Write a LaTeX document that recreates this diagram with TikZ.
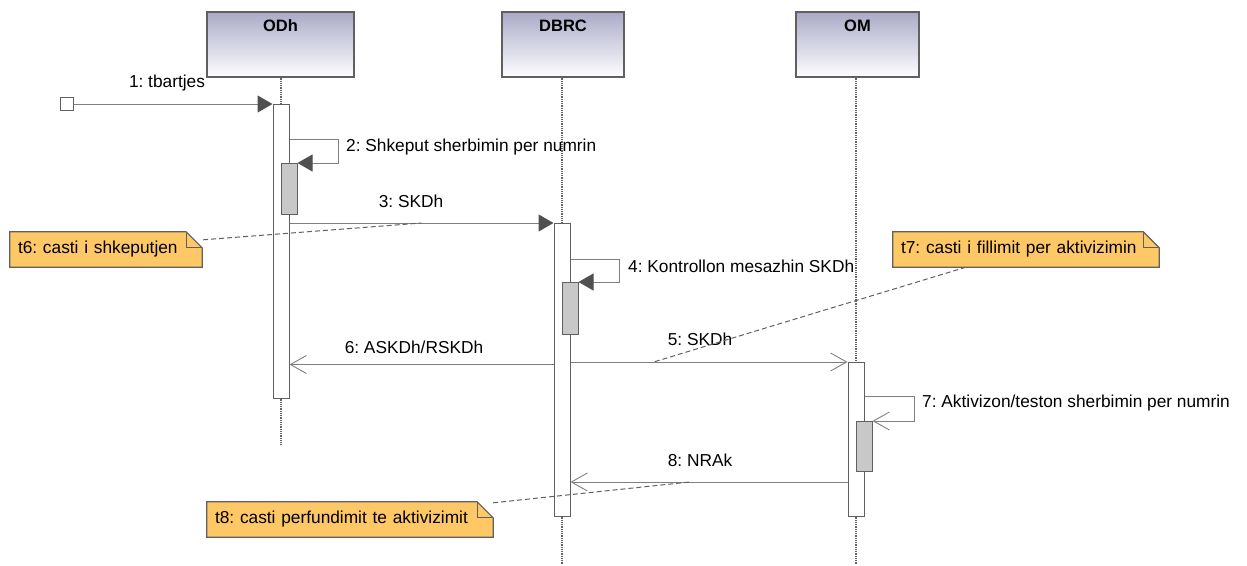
\documentclass[tikz,border=0pt]{standalone}
\usepackage{fontspec}
\setmainfont{Liberation Sans}
\usetikzlibrary{arrows.meta,backgrounds,calc}
\frenchspacing

\definecolor{hdrtop}{RGB}{170,170,199}
\definecolor{hdrbot}{RGB}{252,252,254}
\definecolor{edge}{RGB}{96,96,96}
\definecolor{msg}{RGB}{128,128,128}
\definecolor{headfill}{RGB}{80,80,80}
\definecolor{nested}{RGB}{200,200,200}
\definecolor{notefill}{RGB}{255,200,102}
\definecolor{life}{RGB}{100,100,100}

\tikzset{
  lbl/.style={font=\fontsize{17.3}{20}\selectfont, inner sep=0pt},
  % vertical gradient built from thin horizontal strips
  hdr/.style={draw=edge, line width=1.2pt, minimum height=65pt, inner sep=0pt,
    path picture={
      \foreach \i in {0,...,31}{
        \pgfmathtruncatemacro\pct{100-\i*100/31}
        \fill[hdrtop!\pct!hdrbot]
          ($(path picture bounding box.north west)!{\i/32}!(path picture bounding box.south west)$)
          rectangle
          ($(path picture bounding box.north east)!{(\i+1.3)/32}!(path picture bounding box.south east)$);
      }}},
  hdrtext/.style={font=\fontsize{16.5}{19}\selectfont\bfseries, inner sep=0pt},
  actbar/.style={draw=edge, line width=1pt, fill=white, minimum width=16pt, inner sep=0pt},
  subbar/.style={actbar, fill=nested},
  lifeline/.style={draw=life, line width=1.5pt, dash pattern=on 1pt off 0.8pt},
  call/.style={draw=msg, line width=1pt,
               -{Triangle[length=15pt,width=17pt,color=headfill]}},
  reply/.style={draw=msg, line width=0.9pt, -{Straight Barb[length=16pt,width=18pt]}},
  notebox/.style={lbl, minimum height=35pt, align=left, inner xsep=8pt},
  noteedge/.style={draw=edge, line width=1.2pt},
  notelink/.style={draw=edge, line width=1pt, dash pattern=on 5pt off 3pt},
  startbox/.style={draw=edge, line width=1pt, fill=white, minimum size=13pt, inner sep=0pt},
}

% UML note outline with a folded top-right corner
\newcommand\notefold[1]{%
  \path[fill=notefill] (#1.south west) -- (#1.north west) -- ([xshift=-16pt]#1.north east)
    -- ([yshift=-16pt]#1.north east) -- (#1.south east) -- cycle;
  \draw[noteedge] (#1.south west) -- (#1.north west) -- ([xshift=-16pt]#1.north east)
    -- ([yshift=-16pt]#1.north east) -- (#1.south east) -- cycle;
  \draw[noteedge] ([xshift=-16pt]#1.north east) |- ([yshift=-16pt]#1.north east);}

\begin{document}
\begin{tikzpicture}[x=1pt, y=-1pt]
\useasboundingbox (0,0) rectangle (1247,565);

% participants
\node[hdr, minimum width=147pt] (odh)  at (280.5,44.5) {};
\node[hdr, minimum width=122pt] (dbrc) at (563,44.5) {};
\node[hdr, minimum width=123pt] (om)   at (857.5,44.5) {};
\node[hdrtext] (odhT)  at ([yshift=-14.5pt]odh.north)  {ODh};
\node[hdrtext] (dbrcT) at ([yshift=-14.5pt]dbrc.north) {DBRC};
\node[hdrtext] (omT)   at ([yshift=-14.5pt]om.north)   {OM};

% activation bars
\node[actbar, minimum height=294pt] (odhbar)  at (281,251) {};
\node[subbar, minimum height=51pt]  (odhsub)  at (289,188.5) {};
\node[actbar, minimum height=293pt] (dbrcbar) at (562,369.5) {};
\node[subbar, minimum height=52pt]  (dbrcsub) at (570,308) {};
\node[actbar, minimum height=154pt] (ombar)   at (856,439) {};
\node[subbar, minimum height=50pt]  (omsub)   at (864,446) {};

% lifelines
\coordinate (odhend)  at (281,445);
\coordinate (dbrcend) at (562,565);
\coordinate (omend)   at (856,565);
\draw[lifeline] (odhbar.north |- odh.south) -- (odhbar.north);
\draw[lifeline] (odhbar.south) -- (odhend);
\draw[lifeline] (dbrcbar.north |- dbrc.south) -- (dbrcbar.north);
\draw[lifeline] (dbrcbar.south) -- (dbrcend);
\draw[lifeline] (ombar.north |- om.south) -- (ombar.north);
\draw[lifeline] (ombar.south) -- (omend);

% messages
\node[startbox] (start) at (67,104) {};
\draw[call] (start.east) -- (odhbar.west |- start.east);
\node[lbl] (m1) at (167,83) {1: tbartjes};

\draw[call] (odhbar.east |- 0,139) -| (338,163) -- (odhsub.east |- 0,163);
\node[lbl, anchor=west] (m2) at (346,147) {2: Shkeput sherbimin per numrin};

\draw[call] (odhbar.east |- 0,223) -- coordinate[pos=0.5] (m3pt) (dbrcbar.west |- 0,223);
\node[lbl] (m3) at (411,201) {3: SKDh};

\draw[call] (dbrcbar.east |- 0,259) -| (619,282) -- (dbrcsub.east |- 0,282);
\node[lbl, anchor=west] (m4) at (628,266) {4: Kontrollon mesazhin SKDh};

\draw[reply] (dbrcbar.east |- 0,362) -- coordinate[pos=0.3] (m5pt) (ombar.west |- 0,362);
\node[lbl] (m5) at (700,339) {5: SKDh};

\draw[reply] (dbrcbar.west |- 0,364.5) -- (odhbar.east |- 0,364.5);
\node[lbl] (m6) at (414,347) {6: ASKDh/RSKDh};

\draw[reply] (ombar.east |- 0,396) -| (914,421) -- (omsub.east |- 0,421);
\node[lbl, anchor=west] (m7) at (922,403) {7: Aktivizon/teston sherbimin per numrin};

\draw[reply] (ombar.west |- 0,482) -- coordinate[pos=0.57] (m8pt) (dbrcbar.east |- 0,482);
\node[lbl] (m8) at (700,460) {8: NRAk};

% notes
\node[notebox, text width=176pt] (t6) at (106,249.5) {t6: casti i shkeputjen};
\node[notebox, text width=250pt] (t7) at (1026,249.5) {t7: casti i fillimit per aktivizimin};
\node[notebox, text width=270pt] (t8) at (350,519.5) {t8: casti perfundimit te aktivizimit};
\begin{scope}[on background layer]
  \notefold{t6}
  \notefold{t7}
  \notefold{t8}
\end{scope}

\draw[notelink] ($(t6.north east)+(1,8)$) -- (m3pt);
\draw[notelink] ($(t7.south west)+(73,0)$) -- (m5pt);
\draw[notelink] ($(t8.north east)+(0,1)$) -- (m8pt);
\end{tikzpicture}
\end{document}
